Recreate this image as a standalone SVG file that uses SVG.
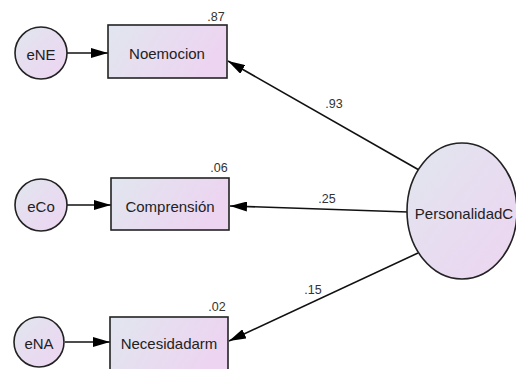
<svg xmlns="http://www.w3.org/2000/svg" width="516" height="369" viewBox="0 0 516 369">
<defs>
<linearGradient id="g" x1="0" y1="0" x2="1" y2="1">
<stop offset="0" stop-color="#e1e6ef"/>
<stop offset="1" stop-color="#edd4f1"/>
</linearGradient>
<linearGradient id="gr" x1="0" y1="0" x2="1" y2="0.3">
<stop offset="0" stop-color="#e1e6ef"/>
<stop offset="1" stop-color="#edd4f1"/>
</linearGradient>
<marker id="ah" viewBox="0 0 17 10" refX="17" refY="5" markerWidth="17" markerHeight="10" markerUnits="userSpaceOnUse" orient="auto">
<path d="M0,0 L17,5 L0,10 Z" fill="#000"/>
</marker>
</defs>
<style>
.n{stroke:#222;stroke-width:1.6}
.t{font-family:"Liberation Sans",Arial,sans-serif;font-size:15px;fill:#222;text-anchor:middle;dominant-baseline:central}
.v{font-family:"Liberation Sans",Arial,sans-serif;font-size:12.5px;fill:#333;text-anchor:middle}
.c{stroke:#111;stroke-width:1.6;fill:none;marker-end:url(#ah)}
</style>
<rect width="516" height="369" fill="#fff"/>
<g id="connectors">
<line class="c" x1="67" y1="53" x2="108" y2="53"/>
<line class="c" x1="67" y1="205" x2="111" y2="205"/>
<line class="c" x1="65" y1="342" x2="110" y2="342"/>
<line class="c" x1="419" y1="170" x2="228" y2="61"/>
<line class="c" x1="408" y1="212" x2="230" y2="206"/>
<line class="c" x1="418" y1="253" x2="229" y2="341"/>
<text class="v" x="334" y="108">.93</text>
<text class="v" x="327" y="203">.25</text>
<text class="v" x="313" y="294">.15</text>
</g>
<g id="eNE"><circle class="n" cx="41" cy="53" r="26" fill="url(#g)"/><text class="t" x="41" y="54">eNE</text></g>
<g id="eCo"><circle class="n" cx="41" cy="205" r="26" fill="url(#g)"/><text class="t" x="41" y="206">eCo</text></g>
<g id="eNA"><circle class="n" cx="39" cy="342" r="25" fill="url(#g)"/><text class="t" x="39" y="343">eNA</text></g>
<g id="Noemocion"><rect class="n" x="108" y="25" width="119" height="53" fill="url(#gr)"/><text class="t" x="167" y="53">Noemocion</text><text class="v" x="216" y="21">.87</text></g>
<g id="Comprension"><rect class="n" x="111" y="178" width="118" height="52" fill="url(#gr)"/><text class="t" x="170" y="206">Comprensión</text><text class="v" x="219" y="172">.06</text></g>
<g id="Necesidadarm"><rect class="n" x="110" y="317" width="118" height="60" fill="url(#gr)"/><text class="t" x="169" y="343">Necesidadarm</text><text class="v" x="217" y="311">.02</text></g>
<g id="PersonalidadC"><ellipse class="n" cx="462" cy="211" rx="55" ry="68" fill="url(#g)"/><text class="t" x="464" y="213">PersonalidadC</text></g>
</svg>
